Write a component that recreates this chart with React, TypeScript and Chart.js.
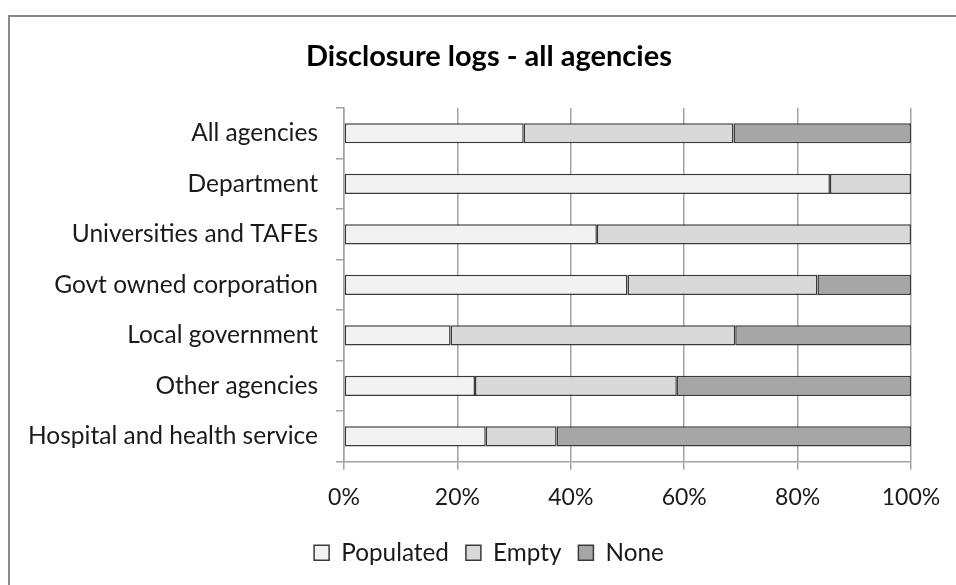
import React, { useEffect, useRef } from "react";
import { Chart, registerables } from "chart.js";

Chart.register(...registerables);

const categories = [
  "All agencies",
  "Department",
  "Universities and TAFEs",
  "Govt owned corporation",
  "Local government",
  "Other agencies",
  "Hospital and health service",
];
const populated = [31.7, 85.7, 44.6, 50.0, 18.8, 23.1, 25.0];
const empty = [37.0, 14.3, 55.4, 33.5, 50.2, 35.6, 12.5];
const none = [31.3, 0, 0, 16.5, 31.0, 41.3, 62.5];
const xTicks = [0, 20, 40, 60, 80, 100];

const FONT = "Lato, 'Open Sans', sans-serif";
const GRID = "#a3a3a3";
const TEXT = "#1a1a1a";

export default function App() {
  const ref = useRef<HTMLCanvasElement | null>(null);
  useEffect(() => {
    if (!ref.current) return;
    const ds = (label: string, data: number[], color: string) => ({
      label,
      data,
      backgroundColor: color,
      borderColor: "#3a3a3a",
      borderWidth: 1.5,
      borderSkipped: false as const,
      categoryPercentage: 1,
      barPercentage: 0.4,
    });
    const chart = new Chart(ref.current, {
      type: "bar",
      data: {
        labels: categories,
        datasets: [
          ds("Populated", populated, "#f2f2f2"),
          ds("Empty", empty, "#d9d9d9"),
          ds("None", none, "#a6a6a6"),
        ],
      },
      options: {
        indexAxis: "y",
        responsive: false,
        animation: false,
        layout: { padding: { left: 24, right: 2, top: 0, bottom: 10 } },
        plugins: {
          title: {
            display: true,
            text: "Disclosure logs - all agencies",
            color: "#000",
            font: { family: FONT, size: 29, weight: "bold", lineHeight: 1.2 },
            padding: { top: 39.6, bottom: 33.6 },
          },
          legend: {
            position: "bottom",
            labels: {
              color: TEXT,
              font: { family: FONT, size: 24.3 },
              boxWidth: 15,
              boxHeight: 15,
              padding: 17,
            },
          },
          tooltip: { enabled: false },
        },
        scales: {
          x: {
            stacked: true,
            min: 0,
            max: 100,
            afterBuildTicks: (scale: any) => {
              scale.ticks = xTicks.map((v) => ({ value: v }));
            },
            ticks: {
              color: TEXT,
              font: { family: FONT, size: 23 },
              padding: 14,
              callback: (v: any) => v + "%",
            },
            grid: {
              color: GRID,
              lineWidth: 1.5,
              drawOnChartArea: true,
              drawTicks: true,
              tickLength: 8,
            },
            border: { display: true, color: GRID, width: 1.5 },
            afterFit: (scale: any) => {
              scale.height = 62;
            },
          },
          y: {
            stacked: true,
            ticks: {
              color: TEXT,
              font: { family: FONT, size: 24.5 },
              padding: 18,
            },
            grid: {
              color: GRID,
              lineWidth: 1.5,
              drawOnChartArea: false,
              drawTicks: true,
              tickLength: 8,
            },
            border: { display: true, color: GRID, width: 1.5 },
            afterFit: (scale: any) => {
              scale.width = 320;
            },
          },
          yRight: {
            type: "category",
            position: "right",
            display: true,
            grid: { display: false, drawTicks: false },
            ticks: { display: false },
            border: { display: false },
            afterFit: (scale: any) => {
              scale.width = 43;
            },
          },
        },
      } as any,
    });
    return () => chart.destroy();
  }, []);

  return (
    <div
      style={{
        position: "fixed",
        left: 0,
        top: 0,
        width: 956,
        height: 585,
        overflow: "hidden",
        background: "#fff",
      }}
    >
      <div
        style={{
          position: "absolute",
          left: 8,
          top: 15,
          width: 1200,
          height: 1200,
          border: "2px solid #8a8a8a",
        }}
      />
      <canvas
        ref={ref}
        width={956}
        height={585}
        style={{ position: "absolute", left: 0, top: 0 }}
      />
    </div>
  );
}
